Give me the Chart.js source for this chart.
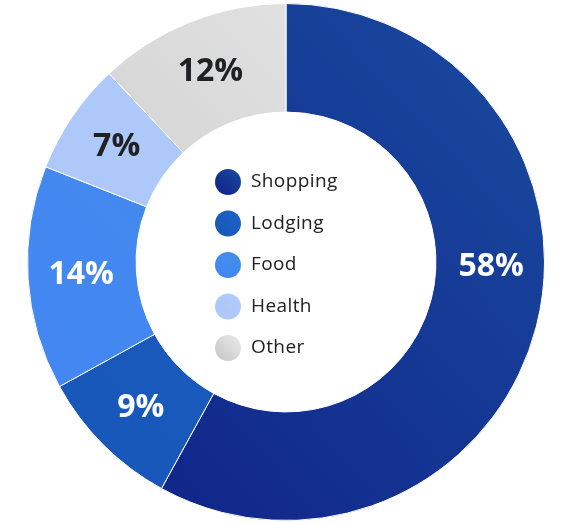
<!DOCTYPE html>
<html>
<head>
<meta charset="utf-8">
<script src="https://cdn.jsdelivr.net/npm/chart.js@4"></script>
<style>
  html, body { margin: 0; padding: 0; background: #fff; }
  #wrap { width: 562px; height: 524px; }
</style>
</head>
<body>
<div id="wrap"><canvas id="chart" width="562" height="524"></canvas></div>
<script>
const categories = ['Shopping', 'Lodging', 'Food', 'Health', 'Other'];
const shares = [58, 9, 14, 7, 12];

// two stops per slice: light corner (top right) -> dark corner (bottom left)
const colorsFrom = ['#1a4ca0', '#1c63c6', '#3f91e4', '#b1cdfa', '#ebebeb'];
const colorsTo = ['#0f1f86', '#1855b8', '#4584f6', '#abc6f8', '#c4c4c4'];
const labelColors = ['#ffffff', '#ffffff', '#ffffff', '#202124', '#202124'];

const chart = document.querySelector('#chart');
const ctx = chart.getContext('2d');

function sliceGradient(c, i, area) {
    const g = c.createLinearGradient(area.right, area.top, area.left, area.bottom);
    g.addColorStop(0, colorsFrom[i]);
    g.addColorStop(1, colorsTo[i]);
    return g;
}

// text centred on its ink box, not on the em box
function centeredText(g, text, x, y) {
    const m = g.measureText(text);
    const w = m.actualBoundingBoxLeft + m.actualBoundingBoxRight;
    const h = m.actualBoundingBoxAscent + m.actualBoundingBoxDescent;
    g.fillText(text, x - w / 2 + m.actualBoundingBoxLeft, y - h / 2 + m.actualBoundingBoxAscent);
}

// percentage text inside each slice
const sliceLabels = {
    id: 'sliceLabels',
    afterDatasetsDraw(c) {
        const meta = c.getDatasetMeta(0);
        const g = c.ctx;
        g.save();
        g.font = '700 32px "Open Sans"';
        g.textAlign = 'left';
        g.textBaseline = 'alphabetic';
        meta.data.forEach((arc, i) => {
            const p = arc.getProps(['x', 'y', 'startAngle', 'endAngle', 'innerRadius', 'outerRadius']);
            let a = (p.startAngle + p.endAngle) / 2;
            // the slice that crosses 3 o'clock gets its label there
            if (p.startAngle < 0 && p.endAngle > 0) a = 0.02;
            const r = (p.innerRadius + p.outerRadius) / 2 + 1;
            g.fillStyle = labelColors[i];
            centeredText(g, shares[i] + '%', p.x + Math.cos(a) * r, p.y + Math.sin(a) * r - 2);
        });
        g.restore();
    }
};

// legend stacked in the hole of the doughnut
const centerLegend = {
    id: 'centerLegend',
    afterDraw(c) {
        const arc = c.getDatasetMeta(0).data[0];
        const cx = arc.x, cy = arc.y;
        const g = c.ctx;
        g.save();
        g.font = '19px "Open Sans"';
        g.letterSpacing = '0.4px';
        g.textBaseline = 'middle';
        categories.forEach((name, i) => {
            const y = cy + (i - 2) * 41.5 + 3;
            const x = cx - 58;
            const grad = g.createLinearGradient(x + 13, y - 13, x - 13, y + 13);
            grad.addColorStop(0, colorsFrom[i]);
            grad.addColorStop(1, colorsTo[i]);
            g.fillStyle = grad;
            g.beginPath();
            g.arc(x, y, 13, 0, Math.PI * 2);
            g.fill();
            g.fillStyle = '#202124';
            g.fillText(name, cx - 35, y);
        });
        g.restore();
    }
};

new Chart(chart, {
    type: 'doughnut',
    data: {
        labels: categories,
        datasets: [
            {
                data: shares,
                backgroundColor: (context) => {
                    const area = context.chart.chartArea;
                    if (!area) return colorsFrom[context.dataIndex];
                    return sliceGradient(context.chart.ctx, context.dataIndex, area);
                },
                borderColor: '#ffffff',
                borderWidth: 1
            }
        ]
    },
    options: {
        responsive: false,
        animation: false,
        cutout: '58%',
        layout: { padding: { left: 10, top: 3, bottom: 3, right: 0 } },
        plugins: {
            legend: { display: false },
            tooltip: { enabled: false }
        }
    },
    plugins: [sliceLabels, centerLegend]
})
</script>
</body>
</html>
